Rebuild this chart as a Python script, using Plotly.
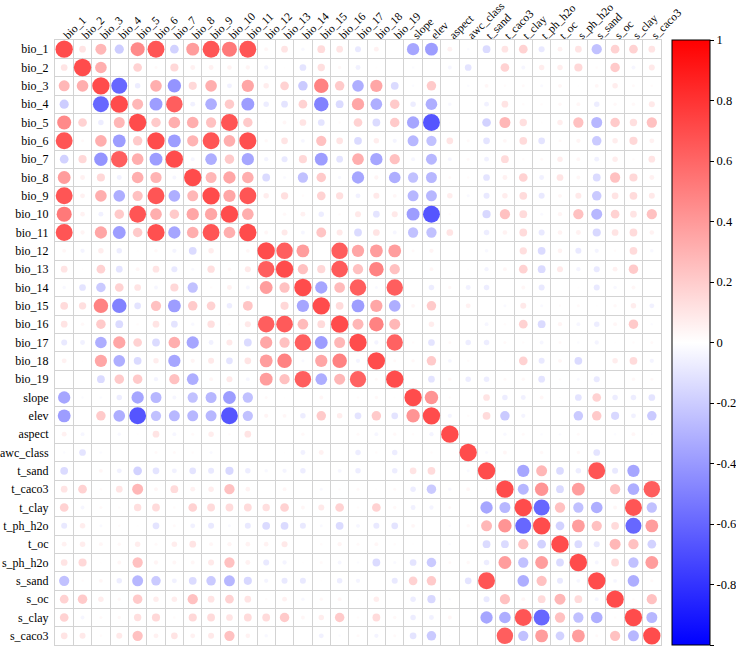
import numpy as np
import plotly.graph_objects as go

labels = ["bio_1", "bio_2", "bio_3", "bio_4", "bio_5", "bio_6", "bio_7", "bio_8", "bio_9",
          "bio_10", "bio_11", "bio_12", "bio_13", "bio_14", "bio_15", "bio_16", "bio_17",
          "bio_18", "bio_19", "slope", "elev", "aspect", "awc_class", "t_sand", "t_caco3",
          "t_clay", "t_ph_h2o", "t_oc", "s_ph_h2o", "s_sand", "s_oc", "s_clay", "s_caco3"]

# lower-triangle correlations, one list per row (columns 0 .. row-1)
r_bio_1 = []
r_bio_2 = [0.15]
r_bio_3 = [0.40, 0.45]
r_bio_4 = [-0.28, 0.0, -0.85]
r_bio_5 = [0.65, 0.25, -0.10, 0.40]
r_bio_6 = [0.95, 0.03, 0.45, -0.55, 0.30]
r_bio_7 = [-0.25, 0.22, -0.60, 0.90, 0.45, -0.55]
r_bio_8 = [0.55, 0.08, 0.22, -0.08, 0.45, 0.42, -0.05]
r_bio_9 = [0.95, 0.08, 0.45, -0.45, 0.35, 0.95, -0.45, 0.40]
r_bio_10 = [0.75, 0.07, -0.08, 0.30, 0.95, 0.45, 0.30, 0.50, 0.50]
r_bio_11 = [0.95, 0.06, 0.50, -0.55, 0.30, 0.98, -0.50, 0.45, 0.95, 0.45]
r_bio_12 = [0.05, -0.06, 0.10, -0.10, 0.01, 0.04, -0.06, -0.20, 0.10, 0.0, 0.05]
r_bio_13 = [0.15, 0.01, 0.25, -0.15, 0.05, 0.15, -0.12, -0.03, 0.18, 0.04, 0.12, 0.90]
r_bio_14 = [-0.04, -0.15, -0.30, 0.25, 0.15, -0.05, 0.22, -0.35, 0.02, 0.08, -0.05, 0.55, 0.35]
r_bio_15 = [0.20, 0.18, 0.70, -0.70, -0.15, 0.35, -0.55, 0.30, 0.25, -0.10, 0.32, 0.0, 0.22, -0.50]
r_bio_16 = [0.15, 0.04, 0.30, -0.20, 0.02, 0.15, -0.15, -0.04, 0.18, 0.02, 0.12, 0.90, 0.92, 0.38,
            0.20]
r_bio_17 = [-0.12, -0.08, -0.45, 0.50, 0.25, -0.20, 0.45, -0.50, -0.08, 0.12, -0.20, 0.50, 0.35,
            0.90, -0.55, 0.40]
r_bio_18 = [0.08, 0.01, 0.50, -0.45, -0.20, 0.10, -0.50, 0.06, 0.12, -0.15, 0.15, 0.55, 0.70,
            -0.03, 0.50, 0.70, -0.06]
r_bio_19 = [0.0, 0.0, -0.20, 0.30, 0.30, -0.06, 0.35, -0.45, 0.05, 0.12, -0.05, 0.55, 0.35, 0.90,
            -0.45, 0.40, 0.88, 0.03]
r_slope = [-0.50, -0.02, -0.02, -0.10, -0.50, -0.40, -0.05, -0.35, -0.40, -0.55, -0.35, 0.03, 0.01,
           0.0, 0.05, 0.0, 0.02, 0.04, 0.01]
r_elev = [-0.55, 0.0, 0.30, -0.45, -0.95, -0.35, -0.40, -0.40, -0.40, -0.95, -0.35, 0.06, 0.05,
          -0.10, 0.30, 0.10, -0.15, 0.30, -0.15, 0.60]
r_aspect = [0.08, -0.05, 0.0, -0.04, 0.01, 0.15, -0.05, 0.03, 0.10, 0.02, 0.15, 0.0, 0.0, 0.04,
            0.0, 0.0, 0.03, -0.05, 0.04, 0.02, -0.06]
r_awc_class = [-0.02, -0.15, -0.02, 0.0, 0.0, 0.03, 0.03, 0.02, -0.03, 0.0, 0.0, 0.0, 0.01, -0.08,
               0.08, 0.0, -0.10, 0.02, -0.10, 0.0, 0.02, 0.0]
r_t_sand = [-0.20, 0.0, 0.05, -0.08, -0.25, -0.15, -0.08, -0.15, -0.12, -0.22, -0.10, -0.04, -0.06,
            -0.10, 0.0, -0.05, -0.10, 0.0, -0.10, 0.15, 0.20, 0.0, -0.03]
r_t_caco3 = [0.15, 0.25, 0.02, 0.15, 0.40, 0.05, 0.20, 0.08, 0.10, 0.35, 0.07, 0.0, 0.05, 0.0,
             -0.03, 0.02, 0.03, 0.01, 0.03, -0.10, -0.30, -0.04, 0.05, 0.01]
r_t_clay = [0.25, -0.05, 0.03, 0.02, 0.18, 0.20, 0.02, 0.25, 0.20, 0.20, 0.20, 0.18, 0.25, 0.05,
            0.12, 0.25, 0.02, 0.25, 0.04, -0.08, -0.06, 0.03, 0.0, -0.50, -0.40]
r_t_ph_h2o = [-0.12, 0.10, -0.03, 0.02, 0.01, -0.15, 0.03, -0.08, -0.12, -0.03, -0.12, -0.20,
              -0.20, -0.12, -0.03, -0.20, -0.05, -0.12, -0.15, 0.05, 0.0, -0.02, 0.04, 0.40,
              0.60, -0.85]
r_t_oc = [0.08, 0.10, 0.05, 0.04, 0.10, 0.03, 0.10, 0.15, 0.05, 0.06, 0.07, 0.07, 0.12, 0.0, 0.02,
          0.06, 0.03, 0.05, 0.02, 0.01, 0.0, -0.02, 0.0, -0.20, -0.20, 0.35, -0.25]
r_s_ph_h2o = [0.15, 0.22, 0.01, 0.05, 0.35, 0.06, 0.05, 0.05, 0.12, 0.35, 0.08, -0.12, -0.06,
              0.01, 0.03, -0.05, -0.02, -0.20, -0.03, -0.15, -0.30, 0.03, 0.04, -0.10, 0.55,
              -0.35, 0.55, -0.20]
r_s_sand = [-0.35, 0.02, 0.05, -0.10, -0.40, -0.30, -0.08, -0.20, -0.30, -0.40, -0.22, -0.06,
            -0.12, -0.12, 0.01, -0.10, -0.06, 0.0, -0.12, 0.25, 0.30, 0.0, -0.15, 0.95, 0.0,
            -0.45, 0.35, -0.12, -0.05]
r_s_oc = [0.25, 0.30, 0.10, 0.04, 0.30, 0.10, 0.10, 0.35, 0.15, 0.25, 0.15, 0.02, 0.08, -0.04,
          0.04, 0.05, 0.01, 0.10, 0.0, -0.10, -0.22, -0.02, 0.0, -0.12, 0.35, 0.05, 0.20, 0.40,
          0.20, -0.05]
r_s_clay = [0.25, -0.05, 0.03, 0.04, 0.18, 0.22, 0.02, 0.22, 0.20, 0.15, 0.20, 0.20, 0.30, 0.05,
            0.10, 0.30, 0.02, 0.20, 0.04, -0.10, -0.08, 0.05, 0.0, -0.50, -0.45, 0.95, -0.85,
            0.35, -0.35, -0.45, 0.02]
r_s_caco3 = [0.15, 0.12, 0.02, 0.12, 0.35, 0.08, 0.15, 0.08, 0.12, 0.35, 0.07, -0.04, 0.0, 0.0,
             -0.08, -0.02, 0.03, -0.06, 0.03, -0.15, -0.30, -0.01, 0.0, 0.0, 0.90, -0.35, 0.55,
             -0.25, 0.55, 0.03, 0.35, -0.40]

rows = [r_bio_1, r_bio_2, r_bio_3, r_bio_4, r_bio_5, r_bio_6, r_bio_7, r_bio_8, r_bio_9, r_bio_10,
        r_bio_11, r_bio_12, r_bio_13, r_bio_14, r_bio_15, r_bio_16, r_bio_17, r_bio_18, r_bio_19,
        r_slope, r_elev, r_aspect, r_awc_class, r_t_sand, r_t_caco3, r_t_clay, r_t_ph_h2o, r_t_oc,
        r_s_ph_h2o, r_s_sand, r_s_oc, r_s_clay, r_s_caco3]

colorbar_ticks = [1, 0.8, 0.6, 0.4, 0.2, 0, -0.2, -0.4, -0.6, -0.8, -1]
colorbar_text = ["1", "0.8", "0.6", "0.4", "0.2", "0", "-0.2", "-0.4", "-0.6", "-0.8", "-1"]

n = len(labels)
M = np.eye(n)
for i, row in enumerate(rows):
    for j, v in enumerate(row):
        M[i, j] = v
        M[j, i] = v

xs, ys, vals = [], [], []
for i in range(n):
    for j in range(n):
        xs.append(j)
        ys.append(i)
        vals.append(M[i, j])
vals = np.array(vals)

W, H = 736, 652
ML, MR, MT, MB = 55, 75, 40, 7
PW = W - ML - MR
cell = PW / n
dmax = cell * 0.945
sizes = dmax * np.sqrt(np.abs(vals))

FAM = '"Liberation Serif", "Times New Roman", Times, serif'
font = dict(family=FAM, size=12, color="black")

fig = go.Figure()
fig.add_trace(go.Scatter(
    x=xs, y=ys, mode="markers",
    marker=dict(
        size=sizes, color=vals, cmin=-1, cmax=1,
        colorscale=[[0, "#0000FF"], [0.5, "#FFFFFF"], [1, "#FF0000"]],
        line=dict(width=0),
        showscale=True,
        colorbar=dict(
            thickness=38, len=1, lenmode="fraction", y=0.5, yanchor="middle",
            x=(672 - ML) / PW, xanchor="left", xpad=0, ypad=0,
            outlinewidth=1, outlinecolor="black",
            tickvals=colorbar_ticks, ticktext=colorbar_text,
            ticks="outside", ticklen=4, tickcolor="black",
            tickfont=dict(family=FAM, size=12.5, color="black"),
        ),
    ),
    hoverinfo="skip",
))

half = [k - 0.5 for k in range(n + 1)]
fig.update_xaxes(
    range=[-0.5, n - 0.5], side="top", tickmode="array", tickvals=list(range(n)),
    ticktext=labels, tickangle=-45, showgrid=False, zeroline=False, ticks="",
    tickfont=dict(family=FAM, size=11.5, color="black"), automargin=False,
    ticklabelstandoff=-7,
    showline=True, mirror=True, linecolor="#d3d3d3", linewidth=1,
    minor=dict(tickvals=half, showgrid=True, gridcolor="#d3d3d3", gridwidth=1, ticks=""),
)
fig.update_yaxes(
    range=[n - 0.5, -0.5], tickmode="array", tickvals=list(range(n)),
    ticktext=labels, showgrid=False, zeroline=False, ticks="",
    tickfont=font, automargin=False, ticklabelstandoff=3,
    showline=True, mirror=True, linecolor="#d3d3d3", linewidth=1,
    minor=dict(tickvals=half, showgrid=True, gridcolor="#d3d3d3", gridwidth=1, ticks=""),
)
fig.update_layout(
    width=W, height=H,
    margin=dict(l=ML, r=MR, t=MT, b=MB, pad=0, autoexpand=False),
    plot_bgcolor="white", paper_bgcolor="white",
    showlegend=False, font=font,
)
fig.write_html("out.html")
